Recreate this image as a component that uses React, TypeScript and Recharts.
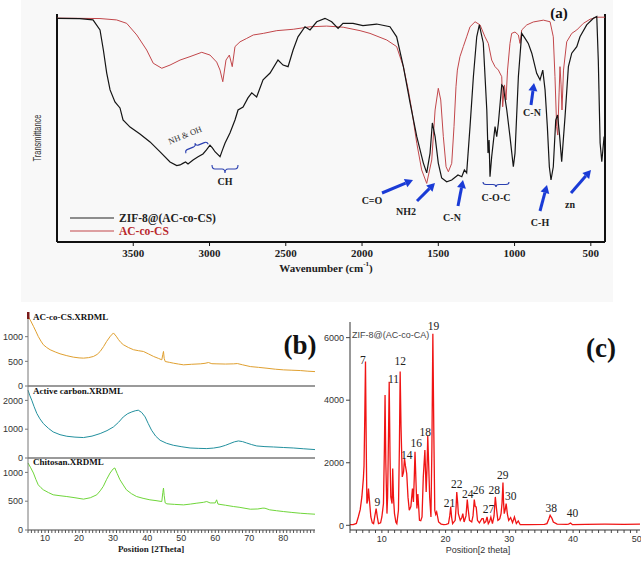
import React from "react";
import { LineChart, Line, XAxis, YAxis, ReferenceLine, ReferenceDot } from "recharts";

const SERIF = "'Liberation Serif', 'Times New Roman', serif";
const SANS = "'Liberation Sans', Arial, sans-serif";
const BLUE = "#1a3bd6";

// (a) FTIR, [wavenumber cm-1, transmittance %]
const zifFtir: [number, number][] = [
  [4000, 98.1], [3850, 98.0], [3764, 97.4], [3718, 93.0], [3696, 84.2], [3674, 74.1],
  [3652, 66.7], [3620, 61.4], [3587, 58.8], [3567, 53.5], [3521, 50.4], [3456, 47.4],
  [3390, 43.9], [3324, 39.5], [3259, 35.1], [3215, 33.5], [3193, 33.8], [3172, 34.6],
  [3157, 35.1], [3141, 34.2], [3108, 36.0], [3075, 37.4], [3043, 38.6], [3020, 40.4],
  [2997, 42.5], [2980, 41.2], [2964, 39.6], [2931, 37.4], [2915, 40.4], [2898, 43.4],
  [2866, 47.8], [2833, 53.5], [2813, 57.9], [2780, 59.2], [2748, 63.2], [2723, 65.4],
  [2691, 63.6], [2649, 71.1], [2603, 74.1], [2551, 79.8], [2518, 77.6], [2485, 76.9],
  [2452, 84.2], [2420, 90.0], [2374, 94.4], [2341, 93.0], [2297, 96.6], [2243, 98.1],
  [2199, 96.6], [2157, 93.7], [2125, 95.9], [2059, 95.9], [1994, 94.9], [1904, 95.6],
  [1817, 94.4], [1773, 90.0], [1729, 76.9], [1685, 61.0], [1641, 46.2], [1598, 34.6],
  [1576, 30.3], [1554, 39.0], [1539, 52.2], [1521, 46.2], [1500, 34.6], [1478, 28.1],
  [1445, 26.4], [1412, 27.2], [1371, 29.4], [1346, 28.6], [1329, 31.6], [1314, 30.3],
  [1292, 50.6], [1270, 72.5], [1248, 90.0], [1231, 95.2], [1205, 87.3], [1182, 57.9],
  [1174, 39.0], [1167, 44.7], [1161, 28.6], [1150, 37.4], [1128, 50.6], [1117, 46.2],
  [1106, 52.2], [1084, 68.9], [1074, 68.1], [1051, 57.9], [1030, 46.2], [1008, 33.0],
  [997, 39.0], [975, 72.5], [953, 91.5], [931, 89.3], [910, 87.1], [887, 82.8],
  [855, 74.0], [833, 71.1], [815, 75.4], [800, 66.7], [785, 50.6], [772, 33.0],
  [761, 27.2], [746, 33.0], [730, 53.5], [718, 55.7], [705, 46.9], [691, 35.2],
  [669, 55.0], [647, 76.9], [625, 82.8], [592, 85.7], [571, 90.0], [527, 95.2],
  [483, 98.1], [461, 98.9], [451, 79.8], [439, 43.4], [428, 35.2], [413, 46.2],
];

const acFtir: [number, number][] = [
  [4000, 98.2], [3718, 98.0], [3609, 97.4], [3543, 95.9], [3477, 90.8], [3412, 84.2],
  [3369, 78.4], [3313, 76.2], [3259, 77.6], [3193, 79.8], [3128, 81.3], [3051, 83.2],
  [2997, 82.0], [2953, 78.9], [2931, 75.4], [2913, 70.3], [2892, 79.8], [2870, 82.0],
  [2851, 76.9], [2833, 85.7], [2800, 87.8], [2756, 89.3], [2713, 90.8], [2647, 91.5],
  [2559, 92.7], [2451, 93.3], [2341, 94.4], [2232, 94.7], [2123, 94.2], [2013, 92.7],
  [1948, 91.5], [1838, 88.6], [1773, 85.7], [1729, 76.9], [1697, 66.7], [1674, 57.9],
  [1641, 43.3], [1609, 31.6], [1576, 25.7], [1543, 36.0], [1521, 57.9], [1500, 67.4],
  [1484, 62.3], [1467, 46.2], [1449, 33.0], [1434, 30.8], [1412, 34.5], [1397, 50.6],
  [1384, 68.1], [1375, 75.4], [1358, 81.3], [1336, 85.7], [1314, 90.0], [1292, 94.4],
  [1259, 96.6], [1226, 95.2], [1194, 90.0], [1172, 87.1], [1150, 79.8], [1128, 76.9],
  [1106, 75.4], [1084, 72.5], [1078, 59.3], [1066, 68.9], [1056, 62.3], [1046, 75.4],
  [1030, 87.1], [1019, 91.5], [997, 92.1], [975, 90.8], [964, 87.1], [953, 93.0],
  [920, 95.2], [877, 96.5], [811, 97.3], [767, 96.6], [746, 90.0], [735, 72.5],
  [724, 50.6], [717, 46.9], [708, 65.4], [702, 76.9], [695, 68.9], [689, 57.9],
  [679, 75.4], [658, 87.8], [625, 91.5], [592, 93.0], [549, 95.9], [505, 97.7],
  [461, 98.6], [407, 98.6],
];

const ftirTicks = [3500, 3000, 2500, 2000, 1500, 1000, 500];

// (b) XRD, [2theta, counts]
const acCsXrd: [number, number][] = [
  [5.0, 1414], [5.8, 1320], [6.6, 1210], [7.3, 1110], [8.0, 1006], [8.8, 910], [9.5, 837],
  [10.5, 780], [11.5, 735], [13, 690], [14.4, 653], [16.4, 615], [18.3, 585], [20, 570],
  [21.3, 565], [22.8, 575], [24.2, 598], [25.3, 640], [26.2, 700], [27.2, 800], [28.1, 904],
  [29.2, 1010], [30.1, 1075], [30.9, 1010], [31.6, 939], [32.3, 880], [33.0, 837], [34.5, 780],
  [36.0, 735], [37.5, 715], [38.9, 700], [40.4, 650], [41.9, 598], [43.3, 560], [44.3, 531],
  [44.6, 640], [44.8, 700], [45.0, 560], [45.3, 496], [46.5, 480], [47.7, 463], [49.2, 445],
  [50.7, 429], [53, 440], [55.6, 449], [57.0, 460], [58.0, 476], [59.0, 452], [60.5, 449],
  [63, 445], [65.4, 449], [66.5, 455], [68, 430], [70.3, 394], [72.7, 378], [75.2, 360],
  [77.7, 340], [80.1, 327], [82.5, 320], [85, 313], [87.2, 300], [89.3, 292],
];

const carbonXrd: [number, number][] = [
  [5.0, 2356], [5.5, 2180], [6.1, 2008], [6.8, 1780], [7.6, 1545], [8.5, 1360], [9.5, 1197],
  [11, 1030], [12.4, 905], [14.4, 810], [16.4, 755], [18.8, 725], [21.3, 710], [23.8, 760],
  [26.2, 849], [28.2, 950], [30.1, 1079], [31.6, 1240], [33.0, 1427], [34.3, 1540],
  [35.5, 1601], [36.5, 1640], [37.4, 1660], [38.4, 1580], [39.4, 1427], [40.3, 1200],
  [41.3, 964], [42.5, 760], [43.8, 616], [45.7, 510], [47.7, 442], [50.2, 390], [52.6, 348],
  [55, 335], [57.5, 327], [59.5, 345], [61.4, 383], [63, 440], [64.3, 501], [65.6, 560],
  [66.8, 592], [68, 570], [69.2, 522], [70.7, 465], [72.2, 418], [74.6, 395], [77.1, 383],
  [80, 365], [82.9, 348], [86, 320], [89.3, 292],
];

const chitosanXrd: [number, number][] = [
  [5.0, 1164], [5.8, 1080], [6.6, 989], [7.3, 880], [8.0, 785], [8.8, 735], [9.5, 698],
  [11, 650], [12.4, 611], [14.4, 595], [16.4, 581], [18.8, 560], [21.3, 536], [23.3, 560],
  [25.2, 611], [26.2, 680], [27.1, 756], [28.1, 880], [29.1, 989], [30.0, 1060], [30.5, 1077],
  [31.2, 980], [32.0, 873], [33.0, 780], [33.9, 698], [35.4, 630], [36.9, 581], [38.8, 550],
  [40.8, 524], [42.6, 510], [44.3, 494], [44.6, 650], [44.8, 728], [45.0, 600], [45.3, 470],
  [45.8, 454], [48, 445], [50.7, 436], [52.7, 450], [54.6, 466], [56.5, 480], [57.5, 494],
  [58.5, 470], [60.0, 470], [60.4, 524], [60.8, 450], [63, 430], [65.4, 407], [67, 395],
  [70.3, 361], [72.5, 365], [74.0, 380], [74.6, 378], [76, 350], [78, 335], [80.1, 320],
  [82.5, 305], [85, 291], [87.2, 282], [89.3, 274],
];

// (c) ZIF-8@(AC-co-CA) XRD
const zifXrd: [number, number][] = [
  [5.0, 20], [5.5, 20], [6.0, 60], [6.3, 266], [6.6, 500], [6.86, 907], [7.1, 1500], [7.2, 1900],
  [7.32, 3500], [7.43, 5234], [7.55, 2500], [7.65, 695], [7.78, 800], [7.9, 1176], [8.05, 800],
  [8.27, 266], [8.5, 80], [8.7, 54], [8.9, 300], [9.1, 535], [9.3, 250], [9.47, 54], [9.8, 80],
  [10.0, 266], [10.25, 695], [10.4, 2500], [10.5, 4167], [10.62, 2000], [10.8, 374], [10.9, 907],
  [11.05, 3000], [11.15, 4593], [11.28, 2200], [11.4, 907], [11.6, 695], [11.7, 1817],
  [11.82, 900], [11.98, 374], [12.2, 100], [12.35, 54], [12.6, 480], [12.75, 2500],
  [12.87, 4914], [13.0, 3200], [13.2, 1548], [13.4, 1700], [13.55, 2137], [13.7, 1900],
  [13.9, 1656], [14.1, 900], [14.3, 480], [14.55, 600], [14.8, 1176], [14.95, 748], [15.08, 1500],
  [15.2, 2350], [15.35, 1400], [15.5, 535], [15.65, 1000], [15.9, 160], [16.1, 150], [16.3, 266],
  [16.5, 1548], [16.75, 2404], [16.95, 1067], [17.08, 1800], [17.2, 2852], [17.35, 1900],
  [17.5, 907], [17.7, 266], [17.85, 2500], [18.0, 6122], [18.15, 3000], [18.3, 480],
  [18.45, 350], [18.6, 427], [18.9, 107], [19.3, 40], [19.7, 20], [20.1, 30], [20.45, 54],
  [20.65, 300], [20.8, 588], [20.95, 250], [21.1, 54], [21.5, 160], [21.65, 600], [21.75, 1067],
  [21.9, 700], [22.0, 374], [22.3, 160], [22.55, 250], [22.7, 374], [22.9, 107], [23.2, 300],
  [23.4, 823], [23.55, 500], [23.75, 160], [24.1, 107], [24.3, 300], [24.5, 823], [24.65, 600],
  [24.8, 588], [25.0, 160], [25.3, 80], [25.7, 213], [25.9, 213], [26.05, 75], [26.3, 120],
  [26.5, 266], [26.7, 54], [26.9, 120], [27.1, 266], [27.35, 54], [27.6, 300], [27.8, 907],
  [28.0, 500], [28.2, 160], [28.35, 180], [28.5, 213], [28.7, 374], [28.85, 700], [29.0, 1368],
  [29.1, 700], [29.2, 374], [29.35, 500], [29.5, 695], [29.7, 350], [29.9, 160], [30.2, 246],
  [30.5, 85], [30.8, 266], [31.1, 54], [31.4, 138], [31.7, 20], [33, 25], [35.5, 30],
  [35.9, 54], [36.2, 200], [36.4, 320], [36.7, 220], [36.9, 107], [37.5, 40], [39.0, 30],
  [39.3, 40], [39.6, 75], [39.9, 20], [42, 30], [45, 35], [48, 30], [50.5, 35],
];

const peakNames = ["7", "9", "11", "12", "14", "16", "18", "19", "21", "22", "24", "26", "27", "28", "29", "30", "38", "40"];
const peakLabelX = [7.02, 9.31, 11.82, 12.87, 13.9, 15.4, 16.79, 18.09, 20.6, 21.76, 23.49, 25.15, 26.72, 27.62, 28.98, 30.24, 36.56, 39.9];
const peakLabelY = [5288, 747, 4689, 5256, 2250, 2640, 2990, 6378, 728, 1314, 994, 1144, 535, 1144, 1603, 939, 567, 407];

const toRows = (pts: [number, number][]) => pts.map(([x, y]) => ({ x, y }));
const range = (a: number, b: number) => Array.from({ length: b - a + 1 }, (_, i) => a + i);

function Arrow({ x1, y1, x2, y2 }: { x1: number; y1: number; x2: number; y2: number }) {
  const a = Math.atan2(y2 - y1, x2 - x1);
  const L = 8, W = 4.5;
  const bx = x2 - L * Math.cos(a), by = y2 - L * Math.sin(a);
  const pts = `${x2},${y2} ${bx + W * Math.sin(a)},${by - W * Math.cos(a)} ${bx - W * Math.sin(a)},${by + W * Math.cos(a)}`;
  return (
    <g>
      <line x1={x1} y1={y1} x2={bx} y2={by} stroke={BLUE} strokeWidth={3} />
      <polygon points={pts} fill={BLUE} />
    </g>
  );
}

function Brace({ x1, x2, y, h = 7, transform }: { x1: number; x2: number; y: number; h?: number; transform?: string }) {
  const m = (x1 + x2) / 2, c = y + h / 2;
  const d = `M${x1},${y} Q${x1},${c} ${x1 + 3},${c} L${m - 3},${c} Q${m},${c} ${m},${y + h} Q${m},${c} ${m + 3},${c} L${x2 - 3},${c} Q${x2},${c} ${x2},${y}`;
  return <path d={d} fill="none" stroke="#2a3fb0" strokeWidth={1.1} transform={transform} />;
}

const bTick = { fontFamily: SANS, fontSize: 9, fill: "#333" };

function XrdStrip({ pts, color, yMax, ticks, top, bottomAxis }: {
  pts: [number, number][]; color: string; yMax: number; ticks: number[]; top: number; bottomAxis?: boolean;
}) {
  const plotH = 72 + (yMax === 1500 ? 2 : 0);
  const bottom = bottomAxis ? 30 : 10;
  return (
    <div style={{ position: "absolute", left: 0, top }}>
      <LineChart width={320} height={5 + plotH + bottom} margin={{ top: 5, right: 5, bottom: bottomAxis ? 0 : 10, left: 0 }}>
        <XAxis
          type="number" dataKey="x" domain={[5, 89.3]} hide={!bottomAxis} height={bottomAxis ? 30 : 0}
          ticks={range(5, 89)} interval={0} tickFormatter={(v: number) => (v % 10 === 0 ? String(v) : "")}
          tickSize={3} tickMargin={2} axisLine={{ stroke: "#444" }} tickLine={{ stroke: "#555" }} tick={bTick}
        />
        <YAxis
          domain={[0, yMax]} ticks={ticks} interval={0} width={28} tickSize={3} tickMargin={2}
          axisLine={{ stroke: "#777" }} tickLine={{ stroke: "#777" }} tick={bTick}
        />
        {!bottomAxis && <ReferenceLine y={0} stroke="#9a9a9a" strokeWidth={2} />}
        <Line data={toRows(pts)} dataKey="y" type="linear" stroke={color} strokeWidth={1} dot={false} isAnimationActive={false} />
      </LineChart>
    </div>
  );
}

export default function App() {
  return (
    <div style={{ position: "absolute", left: 0, top: 0, width: 641, height: 567, background: "#fff", overflow: "hidden" }}>
      <div style={{ position: "absolute", left: 21, top: 0, width: 592, height: 302, background: "#f8f8f8" }} />

      {/* (a) FTIR */}
      <div style={{ position: "absolute", left: 0, top: 0 }}>
        <LineChart width={641} height={300} margin={{ top: 14, right: 36, bottom: 0, left: 57 }}>
          <XAxis
            type="number" dataKey="x" domain={[407, 4000]} reversed allowDataOverflow ticks={ftirTicks} height={58}
            tickSize={4} tickMargin={3} axisLine={{ stroke: "#111", strokeWidth: 2 }} tickLine={{ stroke: "#111" }}
            tick={{ fontFamily: SERIF, fontWeight: 700, fontSize: 11, fill: "#222" }}
          />
          <YAxis hide domain={[0, 100]} />
          <ReferenceLine x={4000} stroke="#111" strokeWidth={2} />
          <ReferenceLine x={407} stroke="#111" strokeWidth={2} />
          <Line data={toRows(acFtir)} dataKey="y" type="linear" stroke="#c2474b" strokeWidth={1} dot={false} isAnimationActive={false} />
          <Line data={toRows(zifFtir)} dataKey="y" type="linear" stroke="#151515" strokeWidth={1.2} dot={false} isAnimationActive={false} />
        </LineChart>
      </div>

      {/* (b) XRD strips */}
      <XrdStrip pts={acCsXrd} color="#e0a030" yMax={1500} ticks={[0, 500, 1000]} top={307} />
      <XrdStrip pts={carbonXrd} color="#22909e" yMax={2500} ticks={[0, 1000, 2000]} top={381} />
      <XrdStrip pts={chitosanXrd} color="#6fd63a" yMax={1250} ticks={[0, 500, 1000]} top={453} bottomAxis />

      {/* (c) ZIF-8 XRD */}
      <div style={{ position: "absolute", left: 300, top: 317 }}>
        <LineChart width={341} height={243} margin={{ top: 5, right: 1, bottom: 0, left: 0 }}>
          <XAxis
            type="number" dataKey="x" domain={[5, 50.5]} allowDataOverflow ticks={range(5, 50)} interval={0}
            tickFormatter={(v: number) => (v % 10 === 0 ? String(v) : "")} height={30}
            tickSize={3} tickMargin={3} axisLine={{ stroke: "#333" }} tickLine={{ stroke: "#444" }} tick={bTick}
          />
          <YAxis
            domain={[-150, 6500]} ticks={[0, 2000, 4000, 6000]} interval={0} width={50} tickSize={4} tickMargin={2}
            axisLine={{ stroke: "#333" }} tickLine={{ stroke: "#444" }} tick={bTick}
          />
          <Line data={toRows(zifXrd)} dataKey="y" type="linear" stroke="#f01414" strokeWidth={1.3} dot={false} isAnimationActive={false} />
          {peakNames.map((n, i) => (
            <ReferenceDot
              key={n} x={peakLabelX[i]} y={peakLabelY[i]} r={0} stroke="none" fill="none"
              label={{ value: n, position: "center", fontFamily: SERIF, fontSize: 11.5, fill: "#222" }}
            />
          ))}
        </LineChart>
      </div>

      <svg width={641} height={567} style={{ position: "absolute", left: 0, top: 0, pointerEvents: "none" }}>
        {/* (a) annotations */}
        <text x={559} y={13} textAnchor="middle" dominantBaseline="central" fontFamily={SERIF} fontWeight={700} fontSize={15} fill="#111">(a)</text>
        <text x={37} y={138} textAnchor="middle" dominantBaseline="central" fontFamily={SANS} fontSize={10} fill="#333" textLength={47} lengthAdjust="spacingAndGlyphs" transform="rotate(-90 37 138)">Transmittance</text>
        <text x={326} y={268} textAnchor="middle" dominantBaseline="central" fontFamily={SERIF} fontWeight={700} fontSize={11} fill="#222">
          Wavenumber (cm<tspan dy={-4} fontSize={7}>-1</tspan><tspan dy={4}>)</tspan>
        </text>
        <line x1={70} y1={218} x2={114} y2={218} stroke="#222" strokeWidth={1} />
        <text x={119} y={218} dominantBaseline="central" fontFamily={SERIF} fontWeight={700} fontSize={11.5} fill="#222">ZIF-8@(AC-co-CS)</text>
        <line x1={70} y1={231} x2={114} y2={231} stroke="#c2474b" strokeWidth={1} />
        <text x={119} y={231} dominantBaseline="central" fontFamily={SERIF} fontWeight={700} fontSize={11.5} fill="#b8282c">AC-co-CS</text>

        <text x={185} y={135} textAnchor="middle" dominantBaseline="central" fontFamily={SERIF} fontSize={8.5} fill="#333" transform="rotate(-22 185 135)">NH &amp; OH</text>
        <Brace x1={184} x2={208} y={143} h={6} transform="rotate(-22 196 146) scale(1,-1) translate(0,-292)" />
        <Brace x1={212} x2={238} y={165} h={8} />
        <text x={225} y={181} textAnchor="middle" dominantBaseline="central" fontFamily={SERIF} fontWeight={700} fontSize={10} fill="#222">CH</text>
        <Brace x1={483} x2={509} y={182} h={5} />

        <Arrow x1={382} y1={193} x2={413} y2={180} />
        <Arrow x1={417} y1={201} x2={435} y2={183} />
        <Arrow x1={458} y1={206} x2={463} y2={180} />
        <Arrow x1={531} y1={105} x2={534} y2={83} />
        <Arrow x1={540} y1={211} x2={547} y2={185} />
        <Arrow x1={571} y1={193} x2={591} y2={170} />

        <text x={372} y={200} textAnchor="middle" dominantBaseline="central" fontFamily={SERIF} fontWeight={700} fontSize={10} fill="#222">C=O</text>
        <text x={406} y={211} textAnchor="middle" dominantBaseline="central" fontFamily={SERIF} fontWeight={700} fontSize={10} fill="#222">NH2</text>
        <text x={452} y={217} textAnchor="middle" dominantBaseline="central" fontFamily={SERIF} fontWeight={700} fontSize={10} fill="#222">C-N</text>
        <text x={496} y={197} textAnchor="middle" dominantBaseline="central" fontFamily={SERIF} fontWeight={700} fontSize={10} fill="#222">C-O-C</text>
        <text x={532} y={112} textAnchor="middle" dominantBaseline="central" fontFamily={SERIF} fontWeight={700} fontSize={10} fill="#222">C-N</text>
        <text x={540} y={222} textAnchor="middle" dominantBaseline="central" fontFamily={SERIF} fontWeight={700} fontSize={10} fill="#222">C-H</text>
        <text x={570} y={204} textAnchor="middle" dominantBaseline="central" fontFamily={SERIF} fontWeight={700} fontSize={10} fill="#222">zn</text>

        {/* (b) annotations */}
        <rect x={27} y={312} width={2.5} height={7} fill="#7a1a1a" />
        <text x={33} y={317} dominantBaseline="central" fontFamily={SERIF} fontWeight={700} fontSize={9} fill="#111">AC-co-CS.XRDML</text>
        <text x={33} y={391} dominantBaseline="central" fontFamily={SERIF} fontWeight={700} fontSize={9} fill="#111">Active carbon.XRDML</text>
        <text x={33} y={462} dominantBaseline="central" fontFamily={SERIF} fontWeight={700} fontSize={9} fill="#111">Chitosan.XRDML</text>
        <text x={300} y={345} textAnchor="middle" dominantBaseline="central" fontFamily={SERIF} fontWeight={700} fontSize={27} fill="#111">(b)</text>
        <text x={151} y={549} textAnchor="middle" dominantBaseline="central" fontFamily={SERIF} fontWeight={700} fontSize={9} fill="#222">Position [2Theta]</text>

        {/* (c) annotations */}
        <text x={352} y={335} dominantBaseline="central" fontFamily={SANS} fontSize={9} fill="#444">ZIF-8@(AC-co-CA)</text>
        <text x={601} y={348} textAnchor="middle" dominantBaseline="central" fontFamily={SERIF} fontWeight={700} fontSize={27} fill="#111">(c)</text>
        <text x={478} y={550} textAnchor="middle" dominantBaseline="central" fontFamily={SANS} fontSize={9} fill="#333">Position[2 theta]</text>
      </svg>
    </div>
  );
}
